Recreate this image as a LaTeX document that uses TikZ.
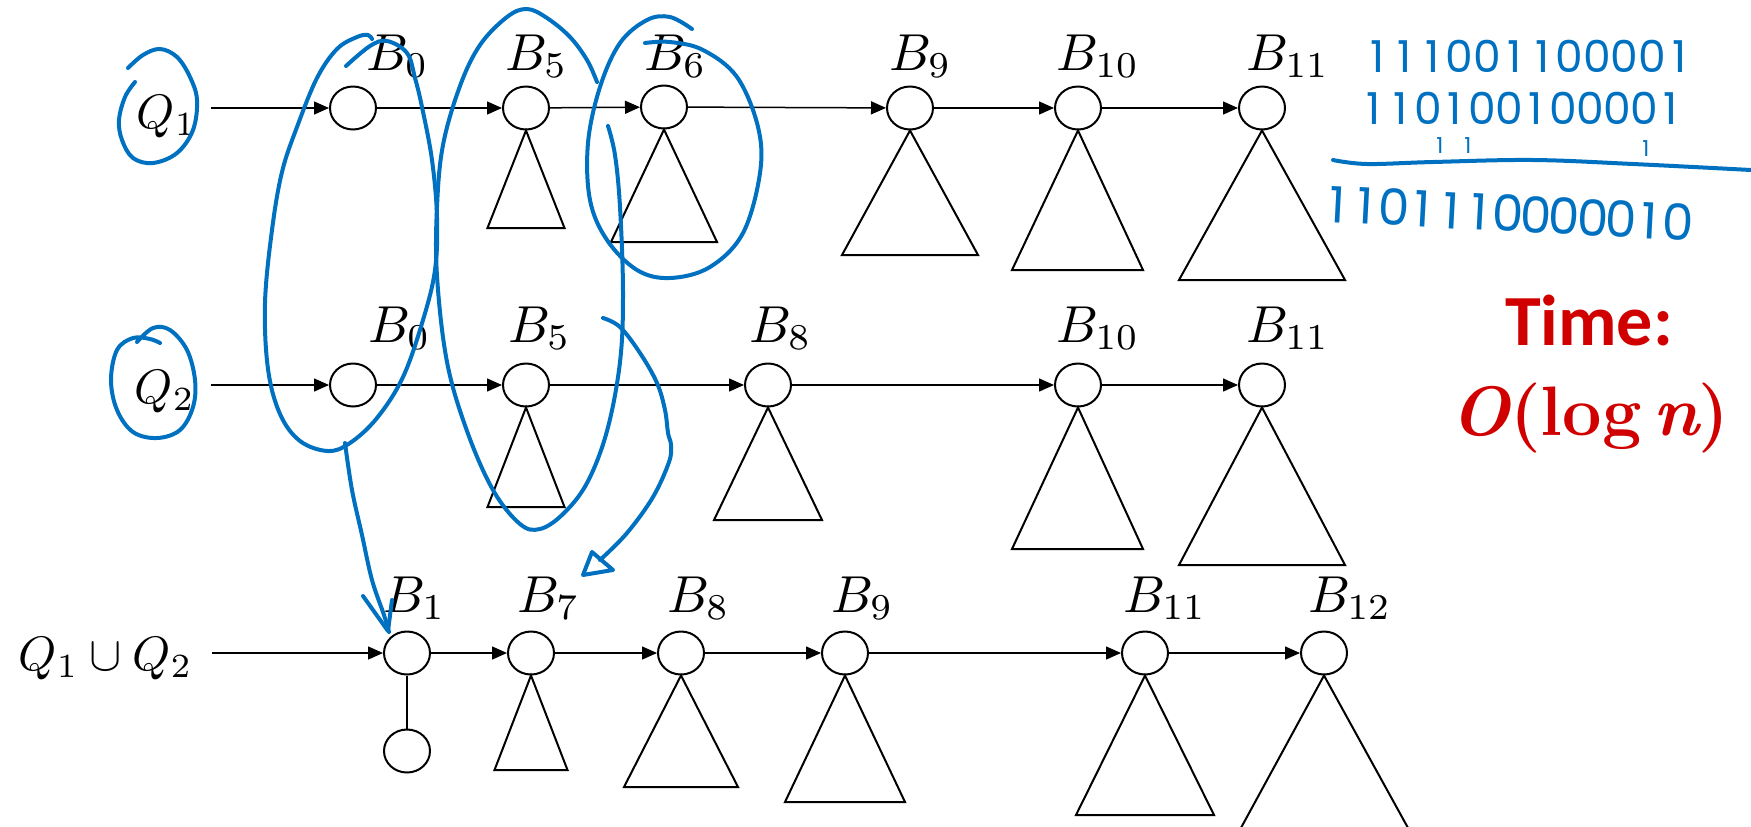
\documentclass[tikz,border=0pt]{standalone}
\usepackage{fontspec}
\newfontfamily\calibri{Carlito}
\newfontfamily\hand{Poppins}
\usetikzlibrary{arrows.meta,shapes.geometric}
\definecolor{inkblue}{RGB}{0,112,192}
\definecolor{tred}{RGB}{208,0,0}
\newcommand\digitrow[2]{\def\dgw{#1}\xdigitrow#2\relax}
\def\xdigitrow#1{\ifx#1\relax\else\makebox[\dgw][c]{#1}\expandafter\xdigitrow\fi}
\begin{document}
\begin{tikzpicture}[x=0.5pt,y=-0.5pt,
  bn/.style={draw, ellipse, minimum width=23pt, minimum height=21.5pt, inner sep=0pt, line width=1pt},
  lab/.style={anchor=base west, inner sep=0pt, scale=2.6},
  qlab/.style={anchor=base west, inner sep=0pt, scale=2.42},
  con/.style={line width=0.75pt, -{Triangle[length=7.5pt,width=6.5pt]}},
  tri/.style={line width=1pt, line join=miter},
  ink/.style={draw=inkblue, line width=2pt, line cap=round, line join=round},
  hnum/.style={anchor=base west, inner sep=0pt, text=inkblue},
]
\useasboundingbox (0,0) rectangle (1751,826);

% ---------- row 1 ----------
\node[qlab] (q1) at (136,128) {$Q_1$};
\coordinate (s1) at (211,108);
\node[bn] (a0) at (353,108) {};
\node[bn] (a5) at (526,108) {};
\node[bn] (a6) at (664,107) {};
\node[bn] (a9) at (910,108) {};
\node[bn] (a10) at (1078,108) {};
\node[bn] (a11) at (1262,108) {};
\node[lab] (la0) at (365,70) {$B_0$};
\node[lab] (la5) at (504,70) {$B_5$};
\node[lab] (la6) at (643,70) {$B_6$};
\node[lab] (la9) at (888,70) {$B_9$};
\node[lab] (la10) at (1055,70) {$B_{10}$};
\node[lab] (la11) at (1245,70) {$B_{11}$};
\draw[con] (s1) -- (a0);
\draw[con] (a0) -- (a5);
\draw[con] (a5) -- (a6);
\draw[con] (a6) -- (a9);
\draw[con] (a9) -- (a10);
\draw[con] (a10) -- (a11);
\draw[tri] (a5.south) -- (487.5,228) -- (564.5,228) -- cycle;
\draw[tri] (a6.south) -- (611,242) -- (717,242) -- cycle;
\draw[tri] (a9.south) -- (842,255) -- (978,255) -- cycle;
\draw[tri] (a10.south) -- (1012,270) -- (1143,270) -- cycle;
\draw[tri] (a11.south) -- (1179,280) -- (1345,280) -- cycle;

% ---------- row 2 ----------
\node[qlab] (q2) at (134,403) {$Q_2$};
\coordinate (s2) at (211,385);
\node[bn] (b0) at (353,385) {};
\node[bn] (b5) at (526,385) {};
\node[bn] (b8) at (768,385) {};
\node[bn] (b10) at (1078,385) {};
\node[bn] (b11) at (1262,385) {};
\node[lab] (lb0) at (367,342) {$B_0$};
\node[lab] (lb5) at (507,342) {$B_5$};
\node[lab] (lb8) at (748,342) {$B_8$};
\node[lab] (lb10) at (1055,342) {$B_{10}$};
\node[lab] (lb11) at (1245,342) {$B_{11}$};
\draw[con] (s2) -- (b0);
\draw[con] (b0) -- (b5);
\draw[con] (b5) -- (b8);
\draw[con] (b8) -- (b10);
\draw[con] (b10) -- (b11);
\draw[tri] (b5.south) -- (487.5,507) -- (564.5,507) -- cycle;
\draw[tri] (b8.south) -- (714,520) -- (822,520) -- cycle;
\draw[tri] (b10.south) -- (1012,549) -- (1143,549) -- cycle;
\draw[tri] (b11.south) -- (1179,565) -- (1345,565) -- cycle;

% ---------- row 3 ----------
\node[qlab] (q3) at (18,670) {$Q_1\cup Q_2$};
\coordinate (s3) at (212,653);
\node[bn] (c1) at (407,653) {};
\node[bn] (c1b) at (407,751) {};
\node[bn] (c7) at (531,653) {};
\node[bn] (c8) at (681,653) {};
\node[bn] (c9) at (845,653) {};
\node[bn] (c11) at (1145,653) {};
\node[bn] (c12) at (1324,653) {};
\node[lab] (lc1) at (382,612) {$B_1$};
\node[lab] (lc7) at (516,612) {$B_7$};
\node[lab] (lc8) at (666,612) {$B_8$};
\node[lab] (lc9) at (830,612) {$B_9$};
\node[lab] (lc11) at (1122,612) {$B_{11}$};
\node[lab] (lc12) at (1307,612) {$B_{12}$};
\draw[con] (s3) -- (c1);
\draw[con] (c1) -- (c7);
\draw[con] (c7) -- (c8);
\draw[con] (c8) -- (c9);
\draw[con] (c9) -- (c11);
\draw[con] (c11) -- (c12);
\draw[line width=1pt] (c1) -- (c1b);
\draw[tri] (c7.south) -- (494.5,770) -- (567.5,770) -- cycle;
\draw[tri] (c8.south) -- (624,787) -- (738,787) -- cycle;
\draw[tri] (c9.south) -- (785,802) -- (905,802) -- cycle;
\draw[tri] (c11.south) -- (1076,815) -- (1214,815) -- cycle;
\draw[tri] (1236,837) -- (c12.south) -- (1413,837);

% ---------- time ----------
\node[anchor=base, inner sep=0pt, text=tred, font=\calibri\bfseries\fontsize{36}{40}\selectfont] (time) at (1589,345) {Time:};
\node[anchor=base, inner sep=0pt, text=tred, font=\bfseries\fontsize{35}{40}\selectfont] (cost) at (1590,435) {{\itshape O}(log\,{\itshape n})};

% ---------- handwritten ink ----------
\draw[ink] plot[smooth, tension=0.6] coordinates {(128,68) (143,55) (160,49) (177,57) (190,77) (197,100) (193,130) (177,153) (153,163) (133,158) (122,140) (119,120) (125,97) (135,82)};
\draw[ink] plot[smooth, tension=0.6] coordinates {(137,342) (153,328) (170,330) (187,350) (195,380) (193,407) (180,430) (157,438) (133,432) (117,410) (111,380) (117,350) (133,338) (150,339) (160,343)};
\draw[ink] plot[smooth, tension=0.6] coordinates {(346,66) (370,46) (387,41) (407,53) (415,78) (422,107) (432,160) (437,217) (435,270) (423,320) (403,377) (377,418) (350,443) (328,451) (300,441) (280,414) (268,369) (265,303) (272,230) (282,172) (297,127) (317,78) (337,49) (357,37) (368,35) (372,39)};
\draw[ink] plot[smooth, tension=0.6] coordinates {(345,443) (352,490) (362,535) (372,580) (384,615) (389,632)};
\draw[ink] (363,596) -- (388,631) -- (392,600);
\draw[ink] plot[smooth, tension=0.6] coordinates {(608,126) (615,155) (620,207) (623,293) (620,362) (607,431) (587,483) (563,514) (540,529) (520,524) (493,490) (467,431) (447,362) (437,276) (437,207) (443,145) (460,86) (480,45) (507,17) (527,9) (547,18) (570,37) (587,60) (597,82)};
\draw[ink] plot[smooth, tension=0.6] coordinates {(692,29) (670,17) (647,20) (620,43) (600,87) (588,143) (590,200) (607,240) (637,270) (670,278) (710,267) (743,233) (760,173) (758,127) (737,77) (703,50) (670,42) (645,43)};
\draw[ink] plot[smooth, tension=0.6] coordinates {(603,318) (620,327) (640,353) (657,383) (665,410) (668,433) (671,445) (669,462) (653,497) (627,533) (600,560)};
\draw[ink] (592,552) -- (583,575) -- (613,570) -- cycle;
\draw[ink] plot[smooth, tension=0.6] coordinates {(1333,160) (1367,164) (1433,162) (1533,160) (1633,164) (1751,170)};

\node[hnum, font=\hand\fontsize{22}{26}\selectfont] (n1) at (1363,72) {\digitrow{13.75pt}{111001100001}};
\node[hnum, font=\hand\fontsize{22}{26}\selectfont] (n2) at (1360,124) {\digitrow{13.5pt}{110100100001}};
\node[anchor=base, inner sep=0pt, text=inkblue, font=\hand\fontsize{11}{12}\selectfont] (k1) at (1440,153) {1};
\node[anchor=base, inner sep=0pt, text=inkblue, font=\hand\fontsize{11}{12}\selectfont] (k2) at (1468,153) {1};
\node[anchor=base, inner sep=0pt, text=inkblue, font=\hand\fontsize{11}{12}\selectfont] (k3) at (1646,156) {1};
\node[hnum, font=\hand\fontsize{25}{28}\selectfont, rotate=-3] (n3) at (1322,222) {\digitrow{14.2pt}{1101110000010}};
\end{tikzpicture}
\end{document}
